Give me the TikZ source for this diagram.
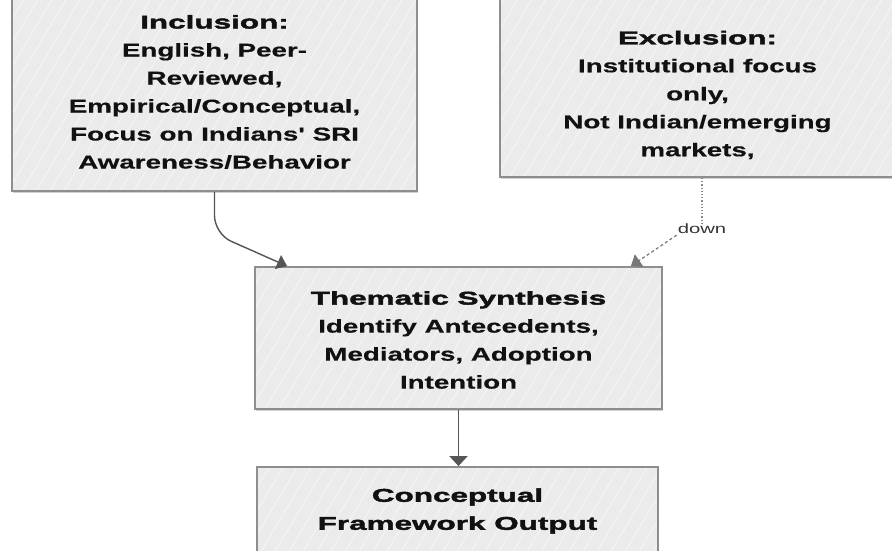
\documentclass[tikz,border=0pt]{standalone}
\usepackage{fontspec}
\usetikzlibrary{arrows.meta,shadows,calc}
\newfontfamily\bodyf{Liberation Sans}[FakeStretch=1.5,FakeBold=0.5,Ligatures=TeXOff]
\newfontfamily\titlef{Liberation Sans}[FakeStretch=1.7,FakeBold=2.2,Ligatures=TeXOff]
\newfontfamily\labf{Liberation Sans}[FakeStretch=1.5]
\definecolor{boxfill}{HTML}{EBEBEB}
\definecolor{hatchc}{HTML}{F5F5F5}
\definecolor{bordc}{HTML}{8E8E8E}
\definecolor{arrc}{HTML}{555555}
\definecolor{txtc}{HTML}{111111}
\tikzset{
  box/.style={draw=bordc, line width=1.8pt, fill=boxfill,
    path picture={
      \foreach \i in {-130,-116,...,420}
        \draw[hatchc, line width=0.9pt] (path picture bounding box.south west) ++(\i pt,0pt) -- ++(125pt,210pt);
    },
    drop shadow={shadow xshift=1.2pt, shadow yshift=-1.5pt, fill=black, opacity=0.18},
    inner sep=0pt},
  boxtext/.style={align=center, text=txtc, inner sep=0pt,
    font=\fontsize{18.5}{28}\selectfont\bodyf\bfseries},
  conn/.style={draw=arrc, line width=1.4pt, -{Triangle[width=15pt,length=10pt]}},
  conndown/.style={draw=arrc, line width=1.4pt, -{Triangle[width=18pt,length=10pt]}},
  dotconn/.style={draw=arrc!70, line width=1.2pt, dotted},
  dashconn/.style={draw=arrc!80, line width=1.2pt, dash pattern=on 3pt off 2.5pt,
    -{Triangle[width=15pt,length=10pt]}},
  downlab/.style={text=txtc!85, inner sep=1pt, font=\fontsize{13.5}{15}\selectfont\labf}
}
\begin{document}
\begin{tikzpicture}[x=1pt,y=-1pt]
\useasboundingbox (0,0) rectangle (892,551);
\clip (0,0) rectangle (892,551);
\fill[white] (0,0) rectangle (892,551);

\node[box, minimum width=405pt, minimum height=200pt] (inc) at (214.5,91) {};
\node[box, minimum width=395pt, minimum height=187pt] (exc) at (697.5,83.5) {};
\node[box, minimum width=407pt, minimum height=142pt] (mid) at (458.5,338) {};
\node[box, minimum width=401pt, minimum height=98pt] (out) at (457.5,516) {};

\node[boxtext] (inct) at (214.5,92) {{\titlef Inclusion:}\\English, Peer-\\Reviewed,\\Empirical/Conceptual,\\Focus on Indians' SRI\\Awareness/Behavior};
\node[boxtext] (exct) at (697.5,95) {{\titlef Exclusion:}\\Institutional focus\\only,\\Not Indian/emerging\\markets,};
\node[boxtext] (midt) at (458.5,340) {{\titlef Thematic Synthesis}\\Identify Antecedents,\\Mediators, Adoption\\Intention};
\node[boxtext] (outt) at (457.5,511) {{\titlef Conceptual}\\{\titlef Framework Output}};

\coordinate (midL) at ($(mid.north west)+(33,0)$);
\coordinate (midR) at ($(mid.north east)+(-32,0)$);
\node[downlab] (down) at (702,229) {down};

\draw[conn, rounded corners=18pt] (inc.south) -- ++(0,42) -- (midL);
\draw[dotconn] (exc.south -| down.north) -- (down.north);
\draw[dashconn] (down.south west) -- (midR);
\draw[conndown] (mid.south) -- (mid.south |- out.north);
\end{tikzpicture}
\end{document}
